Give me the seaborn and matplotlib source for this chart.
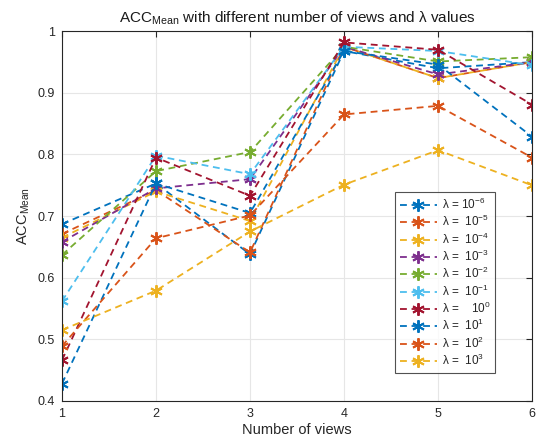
import matplotlib
matplotlib.use("Agg")
import matplotlib.pyplot as plt
import seaborn as sns
import pandas as pd

views = [1, 2, 3, 4, 5, 6]
lambda_labels = [r"$\lambda$ = 10$^{-6}$", r"$\lambda$ =  10$^{-5}$", r"$\lambda$ =  10$^{-4}$",
                 r"$\lambda$ =  10$^{-3}$", r"$\lambda$ =  10$^{-2}$", r"$\lambda$ =  10$^{-1}$",
                 r"$\lambda$ =    10$^{0}$", r"$\lambda$ =  10$^{1}$", r"$\lambda$ =  10$^{2}$",
                 r"$\lambda$ =  10$^{3}$"]

acc_l1e_6 = [0.687, 0.753, 0.638, 0.968, 0.940, 0.950]
acc_l1e_5 = [0.671, 0.742, 0.641, 0.975, 0.924, 0.950]
acc_l1e_4 = [0.665, 0.740, 0.692, 0.975, 0.924, 0.950]
acc_l1e_3 = [0.658, 0.745, 0.760, 0.975, 0.930, 0.950]
acc_l1e_2 = [0.637, 0.773, 0.804, 0.975, 0.951, 0.958]
acc_l1e_1 = [0.562, 0.798, 0.768, 0.975, 0.968, 0.945]
acc_l1e0 = [0.466, 0.795, 0.733, 0.982, 0.970, 0.881]
acc_l1e1 = [0.428, 0.753, 0.705, 0.968, 0.946, 0.829]
acc_l1e2 = [0.489, 0.664, 0.701, 0.865, 0.879, 0.795]
acc_l1e3 = [0.515, 0.579, 0.675, 0.751, 0.807, 0.750]

series = [acc_l1e_6, acc_l1e_5, acc_l1e_4, acc_l1e_3, acc_l1e_2,
          acc_l1e_1, acc_l1e0, acc_l1e1, acc_l1e2, acc_l1e3]

colors = ["#0072BD", "#D95319", "#EDB120", "#7E2F8E", "#77AC30",
          "#4DBEEE", "#A2142F", "#0072BD", "#D95319", "#EDB120"]

rows = []
for lab, vals in zip(lambda_labels, series):
    for v, a in zip(views, vals):
        rows.append({"views": v, "acc": a, "lam": lab})
df = pd.DataFrame(rows)

sns.set_style("white")
plt.rcParams["font.family"] = ["Liberation Sans", "DejaVu Sans"]
plt.rcParams["mathtext.default"] = "regular"

fig = plt.figure(figsize=(5.44, 4.41), dpi=100)
ax = fig.add_axes([0.114, 0.091, 0.864, 0.838])

sns.lineplot(data=df, x="views", y="acc", hue="lam",
             hue_order=lambda_labels, palette=colors,
             linewidth=1.3, ax=ax, legend=True)

star = (6, 2, 0)
for line in ax.get_lines():
    line.set_linestyle((0, (3.8, 2.6)))
    line.set_marker(star)
    line.set_markersize(9)
    line.set_markeredgewidth(1.4)
    line.set_markeredgecolor(line.get_color())

ax.set_xlim(1, 6)
ax.set_ylim(0.4, 1.0)
ax.set_xticks(views)
yt = [0.4, 0.5, 0.6, 0.7, 0.8, 0.9, 1.0]
ax.set_yticks(yt)
ax.set_yticklabels(["0.4", "0.5", "0.6", "0.7", "0.8", "0.9", "1"])
ax.grid(True, color="#e6e6e6", linewidth=0.8)
ax.set_axisbelow(True)
for s in ax.spines.values():
    s.set_color("#262626")
    s.set_linewidth(0.8)
    s.set_visible(True)
ax.tick_params(direction="in", length=4, width=0.8, colors="#262626",
               labelsize=9, top=True, right=True, pad=5)
ax.set_xlabel("Number of views", fontsize=10.5, color="#262626", labelpad=2)
ax.set_ylabel(r"ACC$_{Mean}$", fontsize=10.5, color="#262626", labelpad=4)
ax.set_title(r"ACC$_{Mean}$ with different number of views and $\lambda$ values",
             fontsize=11, color="#1a1a1a", pad=6)

handles, labels = ax.get_legend_handles_labels()
for h in handles:
    h.set_linestyle((0, (3.8, 2.6)))
    h.set_marker(star)
    h.set_markersize(9)
    h.set_markeredgewidth(1.4)
    h.set_markeredgecolor(h.get_color())
leg = ax.legend(handles, labels, loc="lower left", bbox_to_anchor=(0.708, 0.076),
                fontsize=8.5, frameon=True, fancybox=False, edgecolor="#262626",
                handlelength=3.2, handletextpad=0.4, labelspacing=0.18,
                borderpad=0.4, borderaxespad=0)
leg.get_frame().set_linewidth(0.8)

fig.savefig("out.png", dpi=100)
